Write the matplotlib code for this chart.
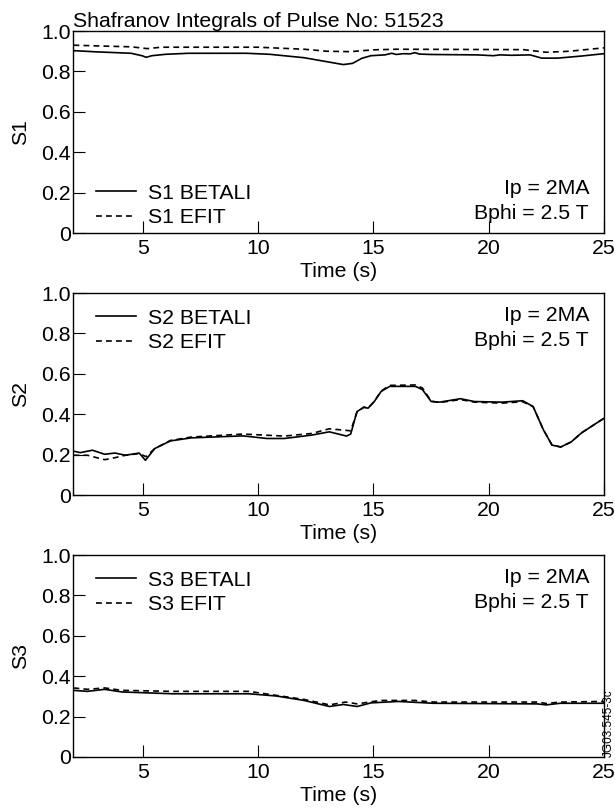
import matplotlib
matplotlib.use("Agg")
import matplotlib.pyplot as plt

matplotlib.rcParams["font.family"] = ["Liberation Sans", "DejaVu Sans"]
FONT_SIZE = 15.3
matplotlib.rcParams.update(
    {
        "font.size": FONT_SIZE,
        "axes.labelsize": FONT_SIZE,
        "xtick.labelsize": FONT_SIZE,
        "ytick.labelsize": FONT_SIZE,
        "legend.fontsize": FONT_SIZE,
        "axes.linewidth": 1.0,
    }
)

# S1 (top panel)
s1_betali_t = [2.0, 3.0, 4.5, 5.0, 5.15, 5.4, 6.0, 7.0, 9.5, 10.5, 12.0, 13.0, 13.7, 14.1,
               14.5, 14.9, 15.5, 15.8, 16.0, 16.3, 16.6, 16.8, 17.0, 17.5, 19.5, 20.2, 20.5,
               21.0, 21.8, 22.3, 23.0, 24.0, 25.0]
s1_betali = [0.903, 0.897, 0.89, 0.877, 0.870, 0.878, 0.885, 0.89, 0.89, 0.885, 0.868, 0.848,
             0.834, 0.84, 0.865, 0.878, 0.882, 0.89, 0.884, 0.888, 0.887, 0.893, 0.886, 0.884,
             0.882, 0.878, 0.882, 0.88, 0.882, 0.866, 0.866, 0.876, 0.888]
s1_efit_t = [2.0, 3.5, 4.5, 5.2, 5.8, 10.0, 12.0, 13.0, 14.0, 15.0, 16.0, 21.5, 22.5, 23.5, 25.0]
s1_efit = [0.93, 0.925, 0.922, 0.913, 0.92, 0.92, 0.91, 0.90, 0.898, 0.907, 0.91, 0.908,
           0.895, 0.90, 0.917]

# S2 (middle panel)
s2_betali_t = [2.0, 2.3, 2.82, 3.35, 3.8, 4.25, 4.85, 5.12, 5.52, 6.2, 7.1, 9.34, 10.39, 11.14,
               12.34, 13.09, 13.84, 14.02, 14.29, 14.59, 14.77, 15.04, 15.34, 15.71, 16.83,
               17.13, 17.51, 17.88, 18.78, 19.38, 20.58, 21.48, 21.93, 22.38, 22.75, 23.13,
               23.58, 24.03, 25.0]
s2_betali = [0.217, 0.21, 0.222, 0.202, 0.208, 0.197, 0.208, 0.172, 0.23, 0.268, 0.283, 0.293,
             0.28, 0.28, 0.297, 0.313, 0.292, 0.302, 0.413, 0.435, 0.43, 0.463, 0.513, 0.538,
             0.538, 0.522, 0.463, 0.46, 0.477, 0.463, 0.46, 0.467, 0.438, 0.322, 0.247, 0.238,
             0.263, 0.308, 0.38]
s2_efit_t = [2.0, 2.6, 3.35, 3.8, 4.25, 4.85, 5.15, 5.52, 6.2, 7.1, 9.34, 11.14, 12.34, 13.09,
             13.84, 14.02, 14.29, 14.59, 14.77, 15.04, 15.34, 15.71, 16.83, 17.13, 17.51,
             17.88, 18.78, 19.38, 20.58, 21.48, 21.93, 22.38, 22.75, 23.13, 23.58, 24.03, 25.0]
s2_efit = [0.197, 0.197, 0.175, 0.185, 0.197, 0.205, 0.19, 0.23, 0.27, 0.287, 0.302, 0.292,
           0.305, 0.328, 0.32, 0.318, 0.41, 0.435, 0.43, 0.463, 0.515, 0.543, 0.545, 0.53,
           0.465, 0.458, 0.473, 0.46, 0.455, 0.462, 0.438, 0.322, 0.247, 0.238, 0.263, 0.308,
           0.38]

# S3 (bottom panel)
s3_betali_t = [2.0, 2.6, 3.35, 4.1, 6.3, 9.6, 10.8, 12.0, 13.1, 13.7, 14.3, 14.9, 16.1, 17.6,
               22.1, 22.5, 23.1, 25.0]
s3_betali = [0.33, 0.325, 0.335, 0.322, 0.313, 0.313, 0.302, 0.28, 0.25, 0.26, 0.25, 0.268,
             0.275, 0.266, 0.263, 0.258, 0.266, 0.266]
s3_efit_t = [2.0, 2.6, 3.35, 4.1, 6.3, 9.6, 10.8, 12.0, 13.1, 13.8, 14.3, 15.3, 16.8, 17.6,
             22.1, 22.5, 23.1, 25.0]
s3_efit = [0.342, 0.335, 0.342, 0.33, 0.325, 0.325, 0.305, 0.285, 0.258, 0.272, 0.263, 0.28,
           0.28, 0.272, 0.272, 0.265, 0.272, 0.275]

panels = [
    ("S1", s1_betali_t, s1_betali, s1_efit_t, s1_efit, "lower"),
    ("S2", s2_betali_t, s2_betali, s2_efit_t, s2_efit, "upper"),
    ("S3", s3_betali_t, s3_betali, s3_efit_t, s3_efit, "upper"),
]
y_ticks = [0, 0.2, 0.4, 0.6, 0.8, 1.0]
y_tick_labels = ["0", "0.2", "0.4", "0.6", "0.8", "1.0"]
x_ticks = [5, 10, 15, 20, 25]

fig = plt.figure(figsize=(6.15, 8.11), dpi=100)
left, width, height = 0.1195, 0.8625, 0.249
bottoms = [0.7127, 0.3896, 0.0666]

for (name, tb, vb, te, ve, where), bottom in zip(panels, bottoms):
    ax = fig.add_axes([left, bottom, width, height])
    ax.plot(tb, vb, color="black", lw=1.2, label=f"{name} BETALI")
    ax.plot(te, ve, color="black", lw=1.2, ls=(0, (3.5, 2.5)), label=f"{name} EFIT")
    ax.set_xlim(2, 25)
    ax.set_ylim(0, 1)
    ax.set_xticks(x_ticks)
    ax.set_yticks(y_ticks)
    ax.set_yticklabels(y_tick_labels)
    ax.tick_params(direction="in", length=8.5, width=0.8, pad=2)
    ax.tick_params(axis="x", pad=4)
    ax.set_xlabel("Time (s)", labelpad=3.5)
    ax.set_ylabel(name)
    ax.yaxis.set_label_coords(-0.082, 0.5)

    if where == "lower":
        leg_anchor = (0.043, 0.03)
        loc = "lower left"
        rows = (0.22, 0.096)
    else:
        leg_anchor = (0.043, 0.922)
        loc = "upper left"
        rows = (0.887, 0.763)
    ax.legend(loc=loc, bbox_to_anchor=leg_anchor, frameon=False, handlelength=1.85,
              handletextpad=0.6, labelspacing=0.25, borderaxespad=0, borderpad=0)
    ax.text(0.972, rows[0], "Ip = 2MA", transform=ax.transAxes, ha="right", va="center")
    ax.text(0.972, rows[1], "Bphi = 2.5 T", transform=ax.transAxes, ha="right", va="center")

    if name == "S1":
        ax.set_title("Shafranov Integrals of Pulse No: 51523", loc="left", pad=2,
                     fontsize=FONT_SIZE)
    if name == "S3":
        ax.text(1.0102, 0.0, "JG03.545-3c", transform=ax.transAxes, rotation=90,
                ha="center", va="bottom", fontsize=8.5,
                family=["Liberation Sans Narrow", "Liberation Sans", "DejaVu Sans"])

fig.savefig("out.png", dpi=100)
